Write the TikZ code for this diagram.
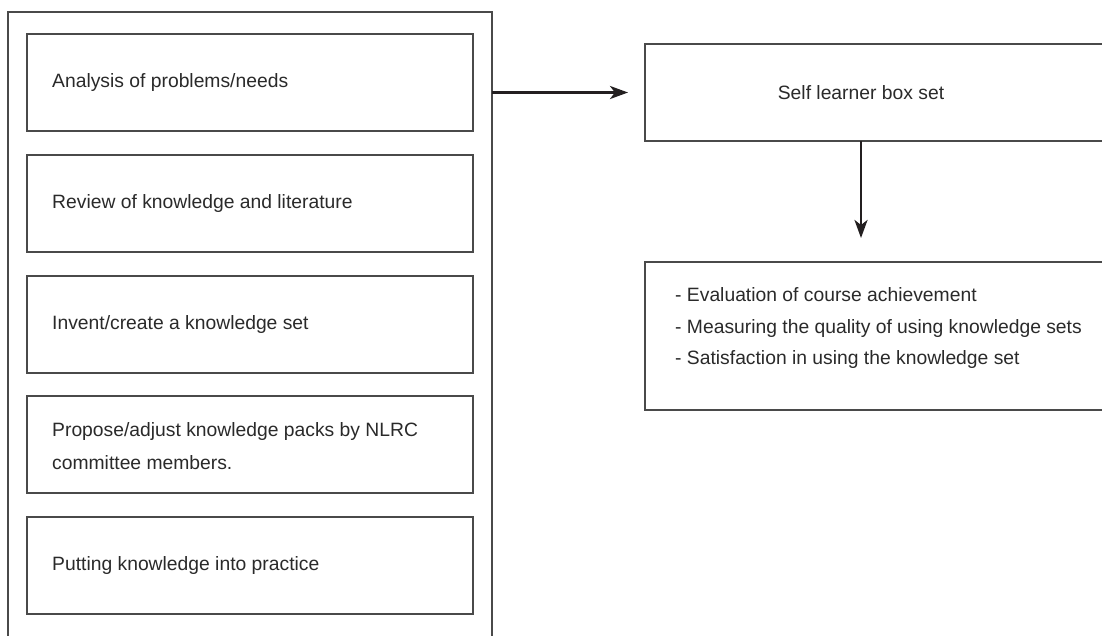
\documentclass[tikz,border=0pt]{standalone}
\usepackage{fontspec}
\setmainfont{Liberation Sans}
\usetikzlibrary{arrows.meta}
\definecolor{linec}{HTML}{4A4A4A}
\definecolor{textc}{HTML}{2A2A2A}
\definecolor{arrc}{HTML}{231F20}
\begin{document}
\begin{tikzpicture}[x=1pt,y=-1pt,
  box/.style={draw=linec, line width=1.7pt, rectangle, inner sep=0pt, outer sep=0pt, anchor=north west},
  txt/.style={text=textc, font=\fontsize{19.3}{33}\selectfont, inner sep=0pt, align=left},
  arr/.style={draw=arrc, line width=2.8pt, -{Stealth[length=18pt,width=13pt,inset=5pt]}}]
\useasboundingbox (0,0) rectangle (1102,635);
\clip (0,0) rectangle (1102,635);
\fill[white] (0,0) rectangle (1102,635);
% left column
\node[box, minimum width=484, minimum height=660] (outer) at (8,12) {};
\node[box, minimum width=446, minimum height=97] (b1) at (27,34) {};
\node[box, minimum width=446, minimum height=97] (b2) at (27,155) {};
\node[box, minimum width=446, minimum height=97] (b3) at (27,276) {};
\node[box, minimum width=446, minimum height=97] (b4) at (27,396) {};
\node[box, minimum width=446, minimum height=97] (b5) at (27,517) {};
\node[txt, anchor=west] (t1) at (52,82.5) {Analysis of problems/needs};
\node[txt, anchor=west] (t2) at (52,203.5) {Review of knowledge and literature};
\node[txt, anchor=west] (t3) at (52,324.5) {Invent/create a knowledge set};
\node[txt, anchor=west] (t4) at (52,446.5) {Propose/adjust knowledge packs by NLRC\\committee members.};
\node[txt, anchor=west] (t5) at (52,565.5) {Putting knowledge into practice};
% right column
\node[box, minimum width=480, minimum height=97] (self) at (645,44) {};
\node[txt] (selft) at (861,92.5) {Self learner box set};
\node[box, minimum width=480, minimum height=148] (eval) at (645,262) {};
\node[txt, anchor=west, font=\fontsize{19.3}{31.5}\selectfont] (evalt) at (675,328.5)
  {- Evaluation of course achievement\\- Measuring the quality of using knowledge sets\\- Satisfaction in using the knowledge set};
% connectors
\draw[arr, shorten >=17pt] (outer.east |- self.west) -- (self.west);
\draw[arr, shorten >=24pt] (selft |- self.south) -- (selft |- eval.north);
\end{tikzpicture}
\end{document}
